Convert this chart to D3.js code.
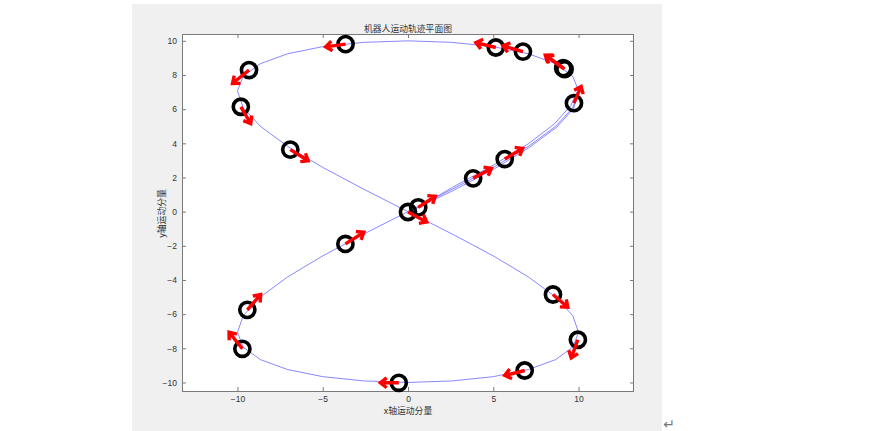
<!DOCTYPE html>
<html>
<head>
<meta charset="utf-8">
<script src="https://cdn.jsdelivr.net/npm/d3@7"></script>
<style>
  html, body { margin: 0; padding: 0; background: #ffffff; }
  svg { display: block; }
</style>
</head>
<body>
<svg id="chart" width="888" height="431"></svg>
<script>
// ---------- data ----------
const title = "机器人运动轨迹平面图";
const xLabel = "x轴运动分量";
const yLabel = "y轴运动分量";
const xTicks = [-10, -5, 0, 5, 10];
const yTicks = [-10, -8, -6, -4, -2, 0, 2, 4, 6, 8, 10];

// main trajectory
const pathX = [0, 2.59, 5.0, 7.07, 8.66, 9.66, 10, 9.66, 8.66, 7.07, 5.0, 2.59, 0, -2.59, -5.0, -7.07, -8.66, -9.66, -10, -9.66, -8.66, -7.07, -5.0, -2.59, 0, 2.59, 5.0, 7.07, 8.66, 9.66, 10, 9.66, 8.66, 7.07, 5.0, 2.59, 0, -2.59, -5.0, -7.07, -8.66, -9.66, -10, -9.66, -8.66, -7.07, -5.0, -2.59, 0];
const pathY = [0, 1.31, 2.59, 3.83, 5.0, 6.09, 7.07, 7.93, 8.66, 9.24, 9.66, 9.91, 10, 9.91, 9.66, 9.24, 8.66, 7.93, 7.07, 6.09, 5.0, 3.83, 2.59, 1.31, 0, -1.31, -2.59, -3.83, -5.0, -6.09, -7.07, -7.93, -8.66, -9.24, -9.66, -9.91, -10, -9.91, -9.66, -9.24, -8.66, -7.93, -7.07, -6.09, -5.0, -3.83, -2.59, -1.31, 0];

// extra passes visible in the upper-right branch
const pass2X = [0.6, 2.6, 5.0, 7.05, 8.6, 9.55, 9.9];
const pass2Y = [0.25, 1.42, 2.72, 3.97, 5.15, 6.22, 7.0];
const pass3X = [0.3, 2.62, 5.05, 7.1, 8.7, 9.7, 10];
const pass3Y = [0.1, 1.22, 2.5, 3.75, 4.93, 6.02, 7.05];

// robot positions (circles) and heading arrows
const markX = [-3.66, -9.32, -9.80, -6.90, 0.0, 0.60, 3.82, 5.67, 9.73, 9.18, 9.10, 6.74, 5.15, -0.54, -9.71, -9.42, -3.67, 8.50, 9.96, 6.84];
const markY = [9.81, 8.29, 6.14, 3.63, -0.02, 0.25, 1.95, 3.08, 6.35, 8.34, 8.40, 9.37, 9.61, -10.02, -8.03, -5.75, -1.89, -4.85, -7.50, -9.30];
const arrowU = [-1.17, -0.97, 0.58, 1.05, 1.10, 1.00, 1.07, 1.05, 0.42, -1.07, -1.05, -1.17, -1.17, -1.08, -0.78, 0.78, 1.08, 0.87, -0.39, -1.17];
const arrowV = [-0.16, -0.79, -0.98, -0.65, -0.58, 0.65, 0.58, 0.62, 0.98, 0.78, 0.76, 0.34, 0.29, 0.00, 0.97, 0.90, 0.68, -0.75, -1.06, -0.29];

// ---------- layout ----------
const svg = d3.select("#chart");
const box = { left: 182, top: 34, right: 634, bottom: 391 };

// figure background
svg.append("rect").attr("x", 132).attr("y", 4).attr("width", 530).attr("height", 427).attr("fill", "#f0f0f0");
svg.append("text").attr("x", 669).attr("y", 429).attr("text-anchor", "middle")
  .attr("font-family", "DejaVu Sans").attr("font-size", 14).attr("fill", "#777").text("↵");

const xs = d3.scaleLinear().domain([-13.25, 13.25]).range([box.left, box.right]);
const ys = d3.scaleLinear().domain([-10.5, 10.4]).range([box.bottom, box.top]);

// axes area
svg.append("rect").attr("x", box.left).attr("y", box.top)
  .attr("width", box.right - box.left).attr("height", box.bottom - box.top).attr("fill", "#ffffff");

const axColor = "#7a7a7a";
const tickFont = "Liberation Sans, Arial, sans-serif";

const gx = svg.append("g").attr("transform", `translate(0,${box.bottom})`)
  .call(d3.axisBottom(xs).tickValues(xTicks).tickSize(-4).tickPadding(5).tickFormat(d3.format("d")));
const gxt = svg.append("g").attr("transform", `translate(0,${box.top})`)
  .call(d3.axisTop(xs).tickValues(xTicks).tickSize(-4).tickFormat(""));
const gy = svg.append("g").attr("transform", `translate(${box.left},0)`)
  .call(d3.axisLeft(ys).tickValues(yTicks).tickSize(-4).tickPadding(5).tickFormat(d3.format("d")));
const gyr = svg.append("g").attr("transform", `translate(${box.right},0)`)
  .call(d3.axisRight(ys).tickValues(yTicks).tickSize(-4).tickFormat(""));

[gx, gxt, gy, gyr].forEach(g => {
  g.select(".domain").remove();
  g.selectAll(".tick line").attr("stroke", axColor);
  g.selectAll(".tick text").attr("font-family", tickFont).attr("font-size", 8.5).attr("fill", "#333");
});

svg.append("rect").attr("x", box.left + 0.5).attr("y", box.top + 0.5)
  .attr("width", box.right - box.left - 1).attr("height", box.bottom - box.top)
  .attr("fill", "none").attr("stroke", axColor).attr("stroke-width", 1);

// trajectory lines
const line = d3.line().x(d => xs(d[0])).y(d => ys(d[1]));
const mk = (X, Y) => X.map((x, i) => [x, Y[i]]);
[[pathX, pathY], [pass2X, pass2Y], [pass3X, pass3Y]].forEach(([X, Y]) => {
  svg.append("path").attr("d", line(mk(X, Y)))
    .attr("fill", "none").attr("stroke", "#4d4dff").attr("stroke-width", 0.8).attr("stroke-opacity", 0.85);
});

// circles
svg.append("g").selectAll("circle").data(d3.range(markX.length)).join("circle")
  .attr("cx", i => xs(markX[i])).attr("cy", i => ys(markY[i])).attr("r", 7.6)
  .attr("fill", "none").attr("stroke", "#000").attr("stroke-width", 3.6);

// arrows
const headLen = 8, headAng = 38 * Math.PI / 180;
svg.append("g").selectAll("path").data(d3.range(markX.length)).join("path")
  .attr("d", i => {
    const x1 = xs(markX[i]), y1 = ys(markY[i]);
    const x2 = xs(markX[i] + arrowU[i]), y2 = ys(markY[i] + arrowV[i]);
    const a = Math.atan2(y2 - y1, x2 - x1);
    const hx1 = x2 - headLen * Math.cos(a - headAng), hy1 = y2 - headLen * Math.sin(a - headAng);
    const hx2 = x2 - headLen * Math.cos(a + headAng), hy2 = y2 - headLen * Math.sin(a + headAng);
    return `M${x1},${y1}L${x2},${y2}M${hx1},${hy1}L${x2},${y2}L${hx2},${hy2}`;
  })
  .attr("fill", "none").attr("stroke", "#ff0000").attr("stroke-width", 3.4).attr("stroke-linejoin", "miter");

// texts
const cjk = "Noto Sans CJK SC, sans-serif";
svg.append("text").attr("x", (box.left + box.right) / 2).attr("y", 31.5).attr("text-anchor", "middle")
  .attr("font-family", cjk).attr("font-size", 8.8).attr("fill", "#333").text(title);
svg.append("text").attr("x", (box.left + box.right) / 2).attr("y", 414).attr("text-anchor", "middle")
  .attr("font-family", cjk).attr("font-size", 8.8).attr("fill", "#333").text(xLabel);
svg.append("text").attr("transform", `translate(164.5,${(box.top + box.bottom) / 2 + 1}) rotate(-90)`)
  .attr("text-anchor", "middle")
  .attr("font-family", cjk).attr("font-size", 8.8).attr("fill", "#333").text(yLabel);
</script>
</body>
</html>
